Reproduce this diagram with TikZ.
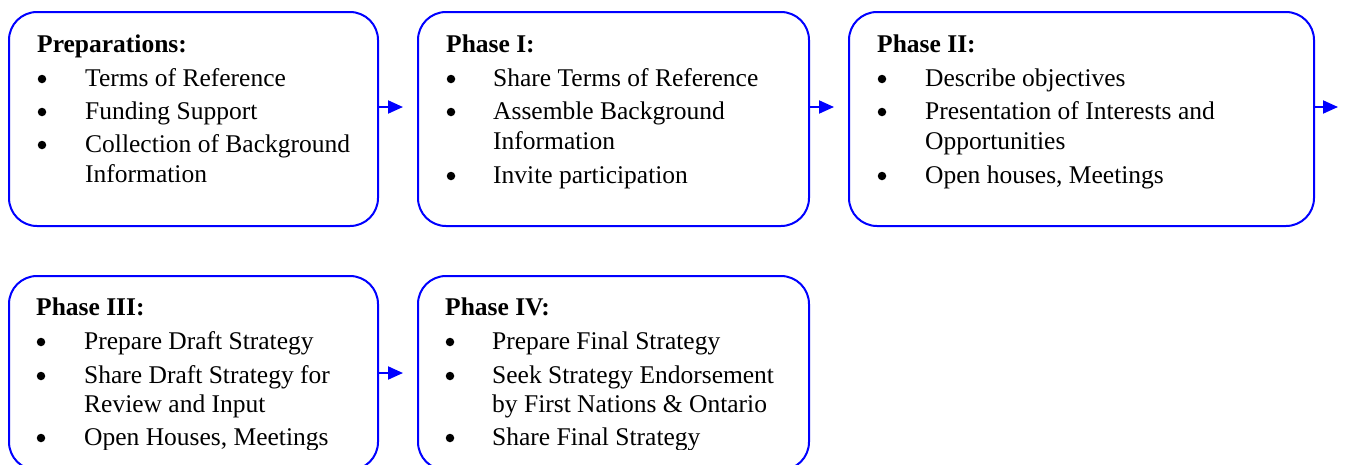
\documentclass[tikz,border=0pt]{standalone}
\usepackage{fontspec}
\setmainfont{Liberation Serif}
\usetikzlibrary{arrows.meta}
\begin{document}
\begin{tikzpicture}[x=1pt,y=-1pt,
  phasebox/.style={draw=blue, line width=2pt, rounded corners=28pt, inner sep=0pt, outer sep=0pt, anchor=north west},
  hd/.style={anchor=base west, inner sep=0pt, font=\fontsize{25.5}{30}\selectfont\bfseries},
  tx/.style={anchor=base west, inner sep=0pt, font=\fontsize{25.5}{30}\selectfont},
  dot/.style={circle, fill=black, inner sep=0pt, minimum size=8.5pt},
  flow/.style={draw=blue, line width=2pt, -{Triangle[length=15pt,width=13pt]}}]
\useasboundingbox (0,0) rectangle (1347,464);
% boxes
\node[phasebox, minimum width=369pt, minimum height=214pt] (b1) at (9,12) {};
\node[phasebox, minimum width=391pt, minimum height=214pt] (b2) at (418,12) {};
\node[phasebox, minimum width=465pt, minimum height=214pt] (b3) at (849,12) {};
\node[phasebox, minimum width=369pt, minimum height=194pt] (b4) at (9,276) {};
\node[phasebox, minimum width=391pt, minimum height=194pt] (b5) at (418,276) {};
% connectors
\draw[flow, shorten >=15pt] ([yshift=12pt]b1.east) -- ([yshift=12pt]b2.west);
\draw[flow, shorten >=15pt] ([yshift=12pt]b2.east) -- ([yshift=12pt]b3.west);
\coordinate (out3) at (1338,107);
\draw[flow] ([yshift=12pt]b3.east) -- (out3);
\draw[flow, shorten >=15pt] (b4.east) -- (b5.west);
% box 1
\node[hd] (h1) at (37,52) {Preparations:};
\node[dot] (p1a) at (42,79) {};
\node[tx] (t1a) at (85,86) {Terms of Reference};
\node[dot] (p1b) at (42,112) {};
\node[tx] (t1b) at (85,119) {Funding Support};
\node[dot] (p1c) at (42,145) {};
\node[tx] (t1c) at (85,152) {Collection of Background};
\node[tx] (t1d) at (85,182) {Information};
% box 2
\node[hd] (h2) at (446,52) {Phase I:};
\node[dot] (p2a) at (451,79) {};
\node[tx] (t2a) at (493,86) {Share Terms of Reference};
\node[dot] (p2b) at (451,112) {};
\node[tx] (t2b) at (493,119) {Assemble Background};
\node[tx] (t2c) at (493,149) {Information};
\node[dot] (p2c) at (451,176) {};
\node[tx] (t2d) at (493,183) {Invite participation};
% box 3
\node[hd] (h3) at (877,52) {Phase II:};
\node[dot] (p3a) at (882,79) {};
\node[tx] (t3a) at (925,86) {Describe objectives};
\node[dot] (p3b) at (882,112) {};
\node[tx] (t3b) at (925,119) {Presentation of Interests and};
\node[tx] (t3c) at (925,149) {Opportunities};
\node[dot] (p3c) at (882,176) {};
\node[tx] (t3d) at (925,183) {Open houses, Meetings};
% row 2 text, cut off at the bottom as in the reference
\begin{scope}
\clip (0,0) rectangle (1347,449);
\node[hd] (h4) at (36,315) {Phase III:};
\node[dot] (p4a) at (41,342) {};
\node[tx] (t4a) at (84,349) {Prepare Draft Strategy};
\node[dot] (p4b) at (41,376) {};
\node[tx] (t4b) at (84,383) {Share Draft Strategy for};
\node[tx] (t4c) at (84,412) {Review and Input};
\node[dot] (p4c) at (41,438) {};
\node[tx] (t4d) at (84,445) {Open Houses, Meetings};
\node[hd] (h5) at (445,315) {Phase IV:};
\node[dot] (p5a) at (450,342) {};
\node[tx] (t5a) at (492,349) {Prepare Final Strategy};
\node[dot] (p5b) at (450,376) {};
\node[tx] (t5b) at (492,383) {Seek Strategy Endorsement};
\node[tx] (t5c) at (492,412) {by First Nations \& Ontario};
\node[dot] (p5c) at (450,438) {};
\node[tx] (t5d) at (492,445) {Share Final Strategy};
\end{scope}
\end{tikzpicture}
\end{document}
